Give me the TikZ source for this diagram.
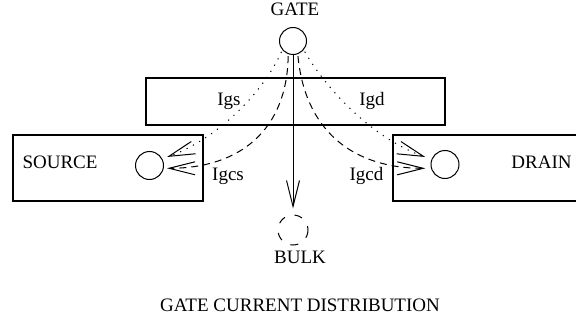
\documentclass[tikz,border=0pt]{standalone}
\usepackage{fontspec}
\setmainfont{Liberation Serif}
\usepackage{tikz}
\usetikzlibrary{arrows.meta}

\tikzset{
  box/.style={draw, line width=1.3pt, inner sep=0pt},
  port/.style={draw, circle, line width=1pt, inner sep=0pt, minimum size=27pt},
  lbl/.style={anchor=base, inner sep=0pt},
  barb/.style={-{Straight Barb[length=26pt, width=13pt]}, line width=1pt}
}

\begin{document}
\begin{tikzpicture}[x=1pt, y=-1pt, font=\fontsize{19}{22}\selectfont]
					\useasboundingbox (0,0) rectangle (576,321);
					\clip (0,0) rectangle (576,321);

					% Boxes
					\node[box, minimum width=299pt, minimum height=47pt] (oxide) at (295.5,101.5) {};
					\node[box, minimum width=190pt, minimum height=66pt] (srcbox) at (108,168) {};
					\node[box, minimum width=190pt, minimum height=66pt] (drnbox) at (488,168) {};

					% Terminals
					\node[port] (gate) at (293,41) {};
					\node[port, minimum size=28pt] (src) at (149.5,165.5) {};
					\node[port, minimum size=28pt] (drn) at (445,164.5) {};
					\node[port, minimum size=30pt, dash pattern=on 8pt off 10pt, dash phase=4pt] (bulk) at (293,230) {};

					\node[lbl] (gatelbl) at (295,15.5) {GATE};
					\node[lbl] (srclbl) at (60,168) {SOURCE};
					\node[lbl] (drnlbl) at (541.5,168) {DRAIN};
					\node[lbl] (bulklbl) at (300,263) {BULK};

					% Arrow ends near source and drain
					\coordinate (sTop) at (167,157);
					\coordinate (sBot) at (167,168.3);
					\coordinate (dTop) at (425.3,157);
					\coordinate (dBot) at (425.3,168.3);

					% Gate currents
					\draw[barb, dash pattern=on 1.2pt off 6pt, shorten <=2pt] (gate.220) .. controls (262,95) and (215,140) .. (sTop);
					\draw[barb, dash pattern=on 7pt off 5pt, shorten <=2pt] (gate.250) .. controls (287,130) and (240,168.3) .. (sBot);
					\draw[barb, dash pattern=on 1.2pt off 6pt, shorten <=2pt] (gate.320) .. controls (330,95) and (377,140) .. (dTop);
					\draw[barb, dash pattern=on 7pt off 5pt, shorten <=2pt] (gate.290) .. controls (305,130) and (352,168.3) .. (dBot);
					\draw[barb, shorten >=6pt] (gate.south) -- (bulk.north);

					\node[lbl] (igs) at (229,106) {Igs};
					\node[lbl] (igd) at (372,106) {Igd};
					\node[lbl] (igcs) at (228,180.5) {Igcs};
					\node[lbl] (igcd) at (366.5,180.5) {Igcd};

					\node[lbl] (title) at (300,311.5) {GATE CURRENT DISTRIBUTION};
				\end{tikzpicture}
\end{document}
